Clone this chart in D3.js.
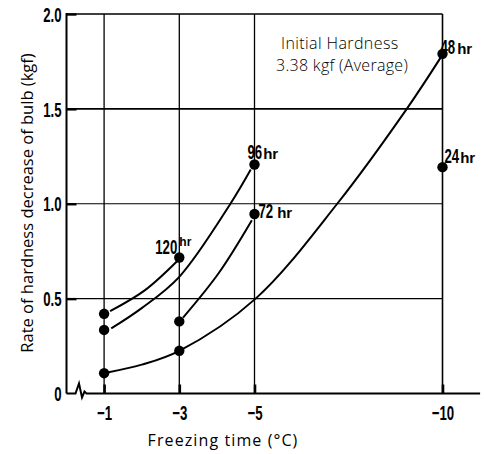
<!DOCTYPE html>
<html><head><meta charset="utf-8">
<script src="https://cdn.jsdelivr.net/npm/d3@7"></script>
<style>
body{margin:0;background:#fff;}
svg{display:block;}
.num{font-family:"Liberation Sans",Arial,sans-serif;font-weight:bold;}
.lt{font-family:"Open Sans","Noto Sans",sans-serif;}
</style>
</head><body>
<svg id="c" width="484" height="454"></svg>
<script>
// ---- data ----
const xTicks = [-1, -3, -5, -10];
const xTickLabels = ["\u22121", "\u22123", "\u22125", "\u221210"];
const yTicks = [0, 0.5, 1.0, 1.5, 2.0];
const yTickLabels = ["0", "0.5", "1.0", "1.5", "2.0"];
const gridY = [0.5, 1.0, 1.5];

// measured points [temperature °C, hardness decrease kgf]
const pts120 = [[-1, 0.42], [-3, 0.717]];
const pts96  = [[-1, 0.335], [-5, 1.207]];
const pts72  = [[-3, 0.38], [-5, 0.946]];
const pts48  = [[-1, 0.107], [-3, 0.225], [-10, 1.79]];
const pts24  = [[-10, 1.193]];

// hand-drawn trend curves
const trend120 = [[-1.16, 0.434], [-2.09, 0.545], [-2.94, 0.697]];
const trend96  = [[-1.19, 0.343], [-2.0, 0.45], [-3.0, 0.615], [-4.36, 1.0], [-4.9, 1.18]];
const trend72  = [[-3.1, 0.40], [-4.05, 0.635], [-4.93, 0.913]];
const trend48  = [[-1.12, 0.112], [-2.0, 0.152], [-3.0, 0.225], [-5.03, 0.5], [-7.2, 1.0], [-9.05, 1.5], [-9.95, 1.77]];

const seriesLabels = ["120", "96", "72", "48", "24"];

// ---- drawing ----
const SX = 0.66; // condensed numerals
const svg = d3.select("#c");
const x = d3.scaleLinear().domain([0, -11]).range([66.5, 480.1]);
const y = d3.scaleLinear().domain([0, 2]).range([393.5, 14]);

const g = svg.append("g");

// gridlines
g.selectAll(".gy").data(gridY).join("line")
  .attr("x1", x(0)).attr("x2", x(-10))
  .attr("y1", d => y(d)).attr("y2", d => y(d))
  .attr("stroke", "#000").attr("stroke-width", d => d === 1.5 ? 1.8 : 1.1);
g.selectAll(".gx").data(xTicks).join("line")
  .attr("x1", d => x(d)).attr("x2", d => x(d))
  .attr("y1", y(2)).attr("y2", y(0))
  .attr("stroke", "#000").attr("stroke-width", d => d === -10 ? 1.6 : 1.3);
// top border
g.append("line").attr("x1", x(0)).attr("x2", x(-10)).attr("y1", y(2)).attr("y2", y(2))
  .attr("stroke", "#000").attr("stroke-width", 1.6);

// y axis
const yAxis = d3.axisLeft(y).tickValues(yTicks)
  .tickSize(-10).tickPadding(5)
  .tickFormat((d) => yTickLabels[yTicks.indexOf(d)]);
const ya = svg.append("g").attr("transform", `translate(${x(0)},0)`).call(yAxis);
ya.select(".domain").remove();
ya.selectAll(".tick line").attr("stroke-width", 2.4).attr("display", d => d === 0 ? "none" : null);
ya.selectAll(".tick text").attr("class", "num").attr("font-size", 20).attr("dy", "0.36em")
  .attr("x", -5 / SX).attr("transform", `scale(${SX},1)`);
// y axis line
svg.append("line").attr("x1", x(0)).attr("x2", x(0)).attr("y1", y(2) - 1).attr("y2", y(0))
  .attr("stroke", "#000").attr("stroke-width", 2);

// x axis with break
const x0 = x(0), yb = y(0);
svg.append("path")
  .attr("d", `M${x0},${yb}H${x0 + 9}L${x0 + 12.5},${yb - 10}L${x0 + 15.5},${yb + 4}L${x0 + 18},${yb - 2}L${x0 + 20},${yb}H${x(-11)}`)
  .attr("fill", "none").attr("stroke", "#000").attr("stroke-width", 2);
const xAxis = d3.axisBottom(x).tickValues(xTicks).tickSize(-9).tickPadding(12)
  .tickFormat(d => xTickLabels[xTicks.indexOf(d)]);
const xa = svg.append("g").attr("transform", `translate(0,${yb})`).call(xAxis);
xa.select(".domain").remove();
xa.selectAll(".tick line").attr("stroke-width", 2.6);
xa.selectAll(".tick text").attr("class", "num").attr("font-size", 20).attr("dy", "0.71em")
  .attr("transform", `scale(${SX},1)`);

// axis titles
svg.append("text").attr("class", "lt").attr("font-size", 16).attr("letter-spacing", 1.1)
  .attr("x", 223).attr("y", 446).attr("text-anchor", "middle")
  .text("Freezing time (\u00b0C)");
svg.append("text").attr("class", "lt").attr("font-size", 16.5)
  .attr("transform", "translate(33,203) rotate(-90)").attr("text-anchor", "middle")
  .text("Rate of hardness decrease of bulb (kgf)");

// annotation
svg.append("text").attr("class", "lt").attr("font-size", 16).attr("font-weight", 300)
  .attr("x", 281).attr("y", 49).attr("letter-spacing", 0.4)
  .text("Initial Hardness");
svg.append("text").attr("class", "lt").attr("font-size", 16).attr("font-weight", 300)
  .attr("x", 276).attr("y", 71).attr("letter-spacing", 0.3)
  .text("3.38 kgf (Average)");

// curves
const line = d3.line().x(d => x(d[0])).y(d => y(d[1])).curve(d3.curveCatmullRom.alpha(0.5));
[trend120, trend96, trend72, trend48].forEach(t => {
  svg.append("path").attr("d", line(t)).attr("fill", "none")
    .attr("stroke", "#000").attr("stroke-width", 2);
});

// points
const allPts = [pts120, pts96, pts72, pts48, pts24].flat();
svg.selectAll(".pt").data(allPts).join("circle")
  .attr("cx", d => x(d[0])).attr("cy", d => y(d[1])).attr("r", 5.2).attr("fill", "#000");

// series labels: condensed number + bold "hr"
function lab(pt, dx, dy, num, gap, hrDy, hrSize, anchorEnd) {
  const px = x(pt[0]) + dx, py = y(pt[1]) + dy;
  const t = svg.append("text").attr("class", "num").attr("font-size", 20)
    .attr("text-anchor", anchorEnd ? "end" : "start")
    .attr("transform", `translate(${px},${py}) scale(${SX},1)`).text(num);
  const w = t.node().getComputedTextLength() * SX;
  const hx = anchorEnd ? px : px + w;
  svg.append("text").attr("font-family", "Liberation Sans, Arial, sans-serif").attr("font-weight", "bold")
    .attr("font-size", hrSize).attr("x", hx + gap).attr("y", py + hrDy).text("hr");
}
lab(pts96[1], -7, -5, seriesLabels[1], 1, 0, 15);
lab(pts72[1], 4, 4, seriesLabels[2], 4, 0, 15);
lab(pts48[2], -2, 0, seriesLabels[3], 2, 0, 15);
lab(pts24[0], 2, -4, seriesLabels[4], 1, 0, 15);
lab(pts120[1], -2, -3, seriesLabels[0], 2, -8, 12, true);
</script>
</body></html>
